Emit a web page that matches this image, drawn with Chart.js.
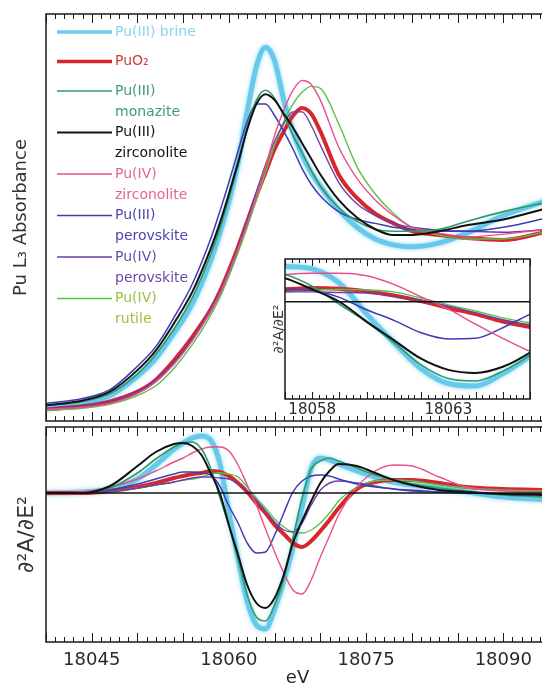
<!DOCTYPE html>
<html>
<head>
<meta charset="utf-8">
<script src="https://cdn.jsdelivr.net/npm/chart.js@4.4.0/dist/chart.umd.min.js"></script>
<style>
  html, body { margin: 0; padding: 0; background: #fff; overflow: hidden; }
  #wrap { position: relative; width: 542px; height: 683px; overflow: hidden; }
  canvas { position: absolute; }
  #abs { left: 0; top: 0; width: 551px; height: 425px; }
  #d2 { left: 0; top: 425px; width: 551px; height: 265px; }
  #zoom { left: 262px; top: 250px; width: 280px; height: 180px; }
</style>
</head>
<body>
<div id="wrap">
  <canvas id="abs" width="551" height="425"></canvas>
  <canvas id="d2" width="551" height="265"></canvas>
  <canvas id="zoom" width="280" height="180"></canvas>
</div>
<script>
// energy grid (eV) for the normalised absorbance spectra
const energyAbs = [18040, 18044, 18047, 18050, 18052, 18054, 18056, 18058, 18059, 18060, 18061, 18062, 18063, 18064, 18065, 18066, 18067, 18068, 18069, 18070, 18072, 18074, 18076, 18078, 18080, 18083, 18086, 18090, 18095];

const absPu3Std     = [-0.01, 0.01, 0.05, 0.15, 0.24, 0.37, 0.52, 0.74, 0.88, 1.04, 1.24, 1.50, 1.73, 1.83, 1.76, 1.56, 1.40, 1.28, 1.19, 1.12, 1.00, 0.91, 0.85, 0.82, 0.81, 0.83, 0.88, 0.97, 1.05];
const absPuO2       = [-0.02, -0.005, 0.02, 0.07, 0.13, 0.23, 0.35, 0.49, 0.58, 0.69, 0.81, 0.94, 1.07, 1.19, 1.31, 1.40, 1.48, 1.52, 1.49, 1.40, 1.18, 1.06, 0.98, 0.93, 0.89, 0.87, 0.855, 0.845, 0.89];
const absPu3Monaz   = [0.0, 0.02, 0.06, 0.16, 0.26, 0.39, 0.55, 0.77, 0.90, 1.06, 1.23, 1.42, 1.56, 1.61, 1.57, 1.48, 1.38, 1.29, 1.20, 1.12, 1.01, 0.94, 0.90, 0.89, 0.89, 0.90, 0.94, 0.99, 1.04];
const absPu3Zirc    = [0.0, 0.025, 0.07, 0.18, 0.28, 0.42, 0.58, 0.80, 0.93, 1.08, 1.24, 1.41, 1.54, 1.59, 1.56, 1.49, 1.42, 1.34, 1.26, 1.18, 1.05, 0.96, 0.90, 0.87, 0.87, 0.89, 0.92, 0.95, 1.01];
const absPu4Zirc    = [-0.02, -0.01, 0.01, 0.06, 0.12, 0.21, 0.33, 0.48, 0.57, 0.68, 0.80, 0.93, 1.07, 1.22, 1.38, 1.51, 1.61, 1.66, 1.64, 1.56, 1.32, 1.16, 1.05, 0.97, 0.91, 0.88, 0.86, 0.875, 0.90];
const absPu3Perov   = [0.01, 0.035, 0.08, 0.20, 0.30, 0.45, 0.62, 0.85, 0.99, 1.14, 1.30, 1.45, 1.54, 1.54, 1.48, 1.40, 1.31, 1.21, 1.13, 1.07, 0.99, 0.95, 0.93, 0.91, 0.90, 0.89, 0.89, 0.91, 0.96];
const absPu4Perov   = [-0.015, 0.0, 0.02, 0.07, 0.13, 0.22, 0.34, 0.49, 0.58, 0.69, 0.81, 0.95, 1.09, 1.23, 1.35, 1.44, 1.50, 1.50, 1.43, 1.33, 1.14, 1.03, 0.97, 0.93, 0.91, 0.895, 0.89, 0.885, 0.90];
const absPu4Std     = [-0.025, -0.015, 0.005, 0.05, 0.10, 0.19, 0.31, 0.46, 0.55, 0.66, 0.78, 0.91, 1.05, 1.19, 1.33, 1.45, 1.54, 1.60, 1.63, 1.62, 1.44, 1.22, 1.08, 0.98, 0.91, 0.87, 0.85, 0.85, 0.89];

// energy grid (eV) for the second derivatives
const energyD2 = [18040, 18044, 18047, 18050, 18052, 18054, 18055, 18056, 18057, 18058, 18059, 18060, 18061, 18062, 18063, 18064, 18065, 18066, 18067, 18068, 18069, 18070, 18071, 18072, 18074, 18076, 18078, 18080, 18083, 18086, 18090, 18095];

const d2Pu3Std   = [0, 0.01, 0.04, 0.14, 0.28, 0.44, 0.50, 0.55, 0.57, 0.53, 0.30, -0.20, -0.66, -1.08, -1.32, -1.36, -1.16, -0.88, -0.55, -0.14, 0.25, 0.35, 0.33, 0.29, 0.22, 0.16, 0.11, 0.08, 0.05, 0.01, -0.04, -0.07];
const d2PuO2     = [0, 0.0, 0.02, 0.06, 0.10, 0.15, 0.17, 0.19, 0.20, 0.22, 0.21, 0.17, 0.10, 0.01, -0.10, -0.20, -0.32, -0.41, -0.50, -0.54, -0.48, -0.38, -0.27, -0.15, 0.04, 0.11, 0.13, 0.13, 0.10, 0.06, 0.04, 0.03];
const d2Pu3Monaz = [0, 0.0, 0.05, 0.20, 0.34, 0.46, 0.50, 0.51, 0.44, 0.25, -0.04, -0.33, -0.66, -1.02, -1.24, -1.28, -1.12, -0.86, -0.45, -0.05, 0.24, 0.32, 0.35, 0.32, 0.25, 0.18, 0.13, 0.09, 0.05, 0.02, -0.02, -0.04];
const d2Pu3Zirc  = [0, 0.0, 0.07, 0.27, 0.41, 0.49, 0.50, 0.47, 0.38, 0.20, 0.0, -0.32, -0.62, -0.92, -1.10, -1.15, -1.05, -0.82, -0.50, -0.28, -0.08, 0.10, 0.22, 0.29, 0.27, 0.20, 0.13, 0.08, 0.03, 0.01, -0.01, -0.02];
const d2Pu4Zirc  = [0, 0.01, 0.06, 0.14, 0.22, 0.31, 0.35, 0.40, 0.44, 0.46, 0.46, 0.42, 0.28, 0.08, -0.12, -0.36, -0.59, -0.80, -0.97, -1.01, -0.87, -0.64, -0.43, -0.22, 0.06, 0.22, 0.28, 0.27, 0.16, 0.06, 0.02, 0.01];
const d2Pu3Perov = [0, 0.0, 0.03, 0.09, 0.14, 0.19, 0.21, 0.21, 0.20, 0.18, 0.07, -0.13, -0.30, -0.50, -0.60, -0.59, -0.42, -0.20, 0.01, 0.12, 0.17, 0.18, 0.17, 0.14, 0.09, 0.06, 0.04, 0.02, 0.01, 0.0, -0.01, -0.01];
const d2Pu4Perov = [0, 0.0, 0.02, 0.05, 0.08, 0.11, 0.13, 0.15, 0.16, 0.16, 0.15, 0.14, 0.09, 0.02, -0.07, -0.18, -0.29, -0.37, -0.39, -0.30, -0.12, 0.03, 0.10, 0.12, 0.10, 0.07, 0.04, 0.03, 0.01, 0.0, -0.01, -0.01];
const d2Pu4Std   = [0, 0.0, 0.02, 0.05, 0.08, 0.11, 0.13, 0.14, 0.16, 0.19, 0.20, 0.19, 0.16, 0.06, -0.05, -0.15, -0.26, -0.34, -0.39, -0.40, -0.37, -0.30, -0.20, -0.08, 0.06, 0.12, 0.13, 0.12, 0.08, 0.05, 0.03, 0.02];

const legendText = [
  ['Pu(III) brine'],
  ['PuO\u2082'],
  ['Pu(III)', 'monazite'],
  ['Pu(III)', 'zirconolite'],
  ['Pu(IV)', 'zirconolite'],
  ['Pu(III)', 'perovskite'],
  ['Pu(IV)', 'perovskite'],
  ['Pu(IV)', 'rutile']
];
const xTickLabels = [18045, 18060, 18075, 18090];
const insetTickLabels = [18058, 18063];

// line styles, in legend order
const looks = [
  { color: 'rgba(95,198,234,0.9)', text: '#8fd2ee', width: 5, order: 9, glow: true },
  { color: '#d6282c', text: '#d43a3a', width: 4, order: 8 },
  { color: '#2e9a66', text: '#3f9c72', width: 1.6, order: 3 },
  { color: '#111111', text: '#111111', width: 2, order: 2 },
  { color: '#ea4f8d', text: '#e7629b', width: 1.4, order: 4 },
  { color: '#3c3cb4', text: '#4a48b0', width: 1.5, order: 5 },
  { color: '#6a3fa6', text: '#6a4aa8', width: 1.4, order: 6 },
  { color: '#5cc04c', text: '#9cc044', width: 1.4, order: 7 }
];

const absSeries = [absPu3Std, absPuO2, absPu3Monaz, absPu3Zirc, absPu4Zirc, absPu3Perov, absPu4Perov, absPu4Std];
const d2Series = [d2Pu3Std, d2PuO2, d2Pu3Monaz, d2Pu3Zirc, d2Pu4Zirc, d2Pu3Perov, d2Pu4Perov, d2Pu4Std];

Chart.defaults.font.family = '"DejaVu Sans", sans-serif';
Chart.defaults.color = '#2a2a2a';

const toPoints = (xs, ys) => xs.map((x, i) => ({ x, y: ys[i] }));

function lineSets(xs, list) {
  return list.map((ys, i) => ({
    label: legendText[i].join(' '),
    data: toPoints(xs, ys),
    borderColor: looks[i].color,
    borderWidth: looks[i].width,
    pointRadius: 0,
    cubicInterpolationMode: 'monotone',
    order: looks[i].order,
    glow: !!looks[i].glow
  }));
}

function zeroLine(x0, x1) {
  return {
    data: [{ x: x0, y: 0 }, { x: x1, y: 0 }],
    borderColor: '#111',
    borderWidth: 1.5,
    pointRadius: 0,
    order: 0
  };
}

// frame with inward minor/major ticks on top and bottom edges
const framePlugin = {
  id: 'frame',
  beforeDatasetsDraw(chart, args, opts) {
    if (!opts.fill) return;
    const { ctx, chartArea: a } = chart;
    ctx.save();
    ctx.fillStyle = '#fff';
    ctx.fillRect(a.left, a.top, a.width, a.height);
    ctx.restore();
  },
  beforeDatasetDraw(chart, args) {
    if (args.meta._dataset.glow) {
      chart.ctx.shadowColor = 'rgba(95,198,234,0.8)';
      chart.ctx.shadowBlur = 4;
    }
  },
  afterDatasetDraw(chart) {
    chart.ctx.shadowBlur = 0;
    chart.ctx.shadowColor = 'rgba(0,0,0,0)';
  },
  afterDatasetsDraw(chart, args, opts) {
    const { ctx, chartArea: a, scales: { x } } = chart;
    ctx.save();
    ctx.strokeStyle = '#1a1a1a';
    ctx.lineWidth = 1;
    ctx.beginPath();
    const n = Math.round((x.max - x.min) / opts.minor);
    for (let i = 0; i <= n; i++) {
      const v = x.min + i * opts.minor;
      const r = v / opts.major;
      const len = Math.abs(r - Math.round(r)) < 1e-6 ? opts.majorLen : opts.minorLen;
      const px = Math.round(x.getPixelForValue(v)) + 0.5;
      ctx.moveTo(px, a.top); ctx.lineTo(px, a.top + len);
      ctx.moveTo(px, a.bottom); ctx.lineTo(px, a.bottom - len);
    }
    ctx.stroke();
    ctx.lineWidth = opts.border;
    ctx.strokeRect(a.left, a.top, a.width, a.height);
    ctx.restore();
  }
};

// sample legend drawn in the upper-left corner of the absorbance panel
const sampleLegend = {
  id: 'sampleLegend',
  afterDatasetsDraw(chart) {
    const ctx = chart.ctx;
    ctx.save();
    ctx.font = '14px "DejaVu Sans", sans-serif';
    ctx.textBaseline = 'middle';
    let y = 32;
    legendText.forEach((lines, i) => {
      ctx.strokeStyle = looks[i].color;
      ctx.lineWidth = Math.min(looks[i].width, 3.5);
      ctx.beginPath();
      ctx.moveTo(57, y);
      ctx.lineTo(112, y);
      ctx.stroke();
      ctx.fillStyle = looks[i].text;
      lines.forEach((t, k) => ctx.fillText(t, 115, y + k * 21));
      y += lines.length > 1 ? 41.5 : 29.5;
    });
    ctx.restore();
  }
};

const fixedTicks = (list) => (scale) => { scale.ticks = list.map(v => ({ value: v })); };

new Chart(document.getElementById('abs'), {
  type: 'line',
  data: { datasets: lineSets(energyAbs, absSeries) },
  options: {
    responsive: false,
    animation: false,
    devicePixelRatio: 1,
    layout: { padding: { top: 14, right: 2, bottom: 4, left: 0 } },
    plugins: {
      legend: { display: false },
      tooltip: { enabled: false },
      frame: { minor: 1, major: 5, minorLen: 5, majorLen: 9, border: 1.5 }
    },
    scales: {
      x: { type: 'linear', min: 18040, max: 18095, display: false },
      y: {
        min: -0.08, max: 2.0,
        grid: { display: false, drawTicks: false },
        border: { display: false },
        ticks: { display: false },
        title: { display: true, text: 'Pu L\u2083 Absorbance', font: { size: 18 }, color: '#333', padding: { top: 11, bottom: 0 } },
        afterFit: (s) => { s.width = 46; }
      }
    }
  },
  plugins: [framePlugin, sampleLegend]
});

new Chart(document.getElementById('d2'), {
  type: 'line',
  data: { datasets: [zeroLine(18040, 18095)].concat(lineSets(energyD2, d2Series)) },
  options: {
    responsive: false,
    animation: false,
    devicePixelRatio: 1,
    layout: { padding: { top: 2, right: 2, bottom: 0, left: 0 } },
    plugins: {
      legend: { display: false },
      tooltip: { enabled: false },
      frame: { minor: 1, major: 5, minorLen: 5, majorLen: 9, border: 1.5 }
    },
    scales: {
      x: {
        type: 'linear', min: 18040, max: 18095,
        grid: { display: false, drawTicks: false },
        border: { display: false },
        afterBuildTicks: fixedTicks(xTickLabels),
        ticks: { padding: 8, font: { size: 18 }, color: '#2a2a2a', callback: (v) => String(v) },
        title: { display: true, text: 'eV', font: { size: 18 }, color: '#2a2a2a', padding: { top: 0, bottom: 1 } },
        afterFit: (s) => { s.height = 48; }
      },
      y: {
        min: -1.49, max: 0.66,
        grid: { display: false, drawTicks: false },
        border: { display: false },
        ticks: { display: false },
        title: { display: true, text: '\u2202\u00b2A/\u2202E\u00b2', font: { size: 22 }, color: '#333', padding: { top: 14, bottom: 0 } },
        afterFit: (s) => { s.width = 46; }
      }
    }
  },
  plugins: [framePlugin]
});

new Chart(document.getElementById('zoom'), {
  type: 'line',
  data: { datasets: [zeroLine(18057, 18066)].concat(lineSets(energyD2, d2Series)) },
  options: {
    responsive: false,
    animation: false,
    devicePixelRatio: 1,
    layout: { padding: { top: 9, right: 12, bottom: 0, left: 0 } },
    plugins: {
      legend: { display: false },
      tooltip: { enabled: false },
      frame: { minor: 0.25, major: 1, minorLen: 4, majorLen: 7, border: 1.5, fill: true }
    },
    scales: {
      x: {
        type: 'linear', min: 18057, max: 18066,
        grid: { display: false, drawTicks: false },
        border: { display: false },
        afterBuildTicks: fixedTicks(insetTickLabels),
        ticks: { padding: 2, font: { size: 15 }, color: '#2a2a2a', callback: (v) => String(v) },
        afterFit: (s) => { s.height = 31; }
      },
      y: {
        min: -1.57, max: 0.69,
        grid: { display: false, drawTicks: false },
        border: { display: false },
        ticks: { display: false },
        title: { display: true, text: '\u2202\u00b2A/\u2202E\u00b2', font: { size: 14 }, color: '#333', padding: { top: 9, bottom: 0 } },
        afterFit: (s) => { s.width = 23; }
      }
    }
  },
  plugins: [framePlugin]
});
</script>
</body>
</html>
